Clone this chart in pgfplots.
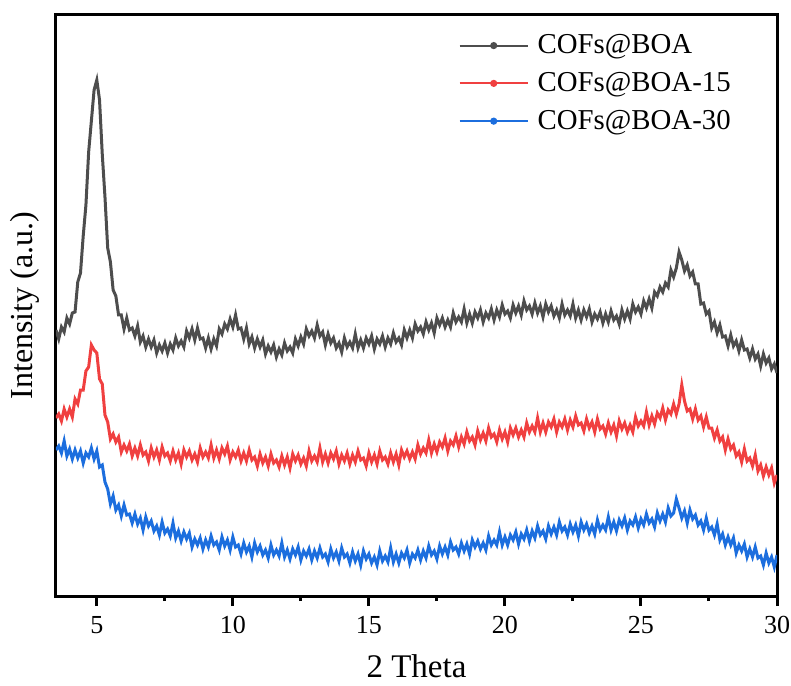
\documentclass[border=0pt]{standalone}
\usepackage{fontspec}
\setmainfont{Liberation Serif}
\usepackage{pgfplots}
\usepackage{pgfplotstable}
\pgfplotsset{compat=1.18}
\definecolor{cblack}{RGB}{77,77,77}
\definecolor{cred}{RGB}{240,64,64}
\definecolor{cblue}{RGB}{28,110,222}
\pgfplotstableread{
x b r u
3.5 270 182 150
3.6 261 186 154
3.7 273 179 147
3.8 268 191 159
3.9 282 183 144
4.0 276 191 151
4.1 287 183 141
4.2 288 201 150
4.3 318 196 142
4.4 327 210 149
4.5 364 210 137
4.6 395 229 147
4.7 448 233 143
4.8 479 255 152
4.9 510 250 141
5.0 520 247 149
5.1 500 221 133
5.2 446 216 135
5.3 403 185 118
5.4 352 178 111
5.5 338 161 96
5.6 310 166 104
5.7 304 158 90
5.8 285 163 95
5.9 285 148 84
6.0 271 155 95
6.1 282 149 85
6.2 270 156 86
6.3 272 144 77
6.4 264 152 86
6.5 274 144 76
6.6 258 155 82
6.7 264 145 70
6.8 253 148 83
6.9 261 139 74
7.0 253 152 79
7.1 260 143 69
7.2 247 150 74
7.3 255 140 65
7.4 249 153 78
7.5 257 144 67
7.6 247 147 71
7.7 256 139 64
7.8 250 149 77
7.9 262 140 62
8.0 254 147 69
8.1 259 136 59
8.2 253 150 68
8.3 269 143 61
8.4 262 149 67
8.5 271 140 53
8.6 260 146 61
8.7 272 138 55
8.8 261 152 62
8.9 262 143 51
9.0 252 148 60
9.1 262 142 53
9.2 251 155 64
9.3 261 142 55
9.4 254 150 58
9.5 271 141 50
9.6 266 152 63
9.7 276 146 54
9.8 271 154 60
9.9 281 140 50
10.0 273 148 63
10.1 285 143 53
10.2 271 150 55
10.3 272 139 46
10.4 261 147 57
10.5 272 139 48
10.6 256 150 54
10.7 263 140 43
10.8 252 143 57
10.9 261 134 48
11.0 253 146 54
11.1 260 137 45
11.2 246 143 50
11.3 254 134 42
11.4 248 146 55
11.5 255 137 45
11.6 243 140 50
11.7 251 133 44
11.8 245 144 57
11.9 257 135 43
12.0 249 143 50
12.1 253 132 41
12.2 247 146 51
12.3 261 139 45
12.4 254 145 53
12.5 263 136 40
12.6 256 142 49
12.7 271 134 44
12.8 264 149 51
12.9 269 139 40
13.0 262 144 49
13.1 275 138 42
13.2 264 152 52
13.3 268 138 43
13.4 255 146 46
13.5 266 137 38
13.6 257 147 51
13.7 262 141 42
13.8 252 149 48
13.9 257 136 39
14.0 248 145 52
14.1 262 139 43
14.2 253 147 46
14.3 258 136 37
14.4 252 145 48
14.5 266 138 39
14.6 252 149 46
14.7 260 140 35
14.8 252 142 49
14.9 262 134 41
15.0 256 147 46
15.1 264 138 37
15.2 251 145 43
15.3 261 136 35
15.4 256 149 49
15.5 264 140 39
15.6 253 143 44
15.7 262 136 38
15.8 256 147 52
15.9 267 138 38
16.0 258 146 46
16.1 262 135 37
16.2 255 150 47
16.3 270 143 42
16.4 262 149 50
16.5 270 141 37
16.6 262 148 46
16.7 276 141 42
16.8 269 155 50
16.9 273 146 40
17.0 266 152 49
17.1 278 147 42
17.2 270 160 54
17.3 277 147 45
17.4 267 156 49
17.5 282 148 41
17.6 275 158 54
17.7 282 153 46
17.8 273 162 53
17.9 280 149 45
18.0 273 159 58
18.1 287 155 50
18.2 278 164 53
18.3 283 153 46
18.4 278 163 57
18.5 291 156 49
18.6 277 168 56
18.7 286 159 46
18.8 277 163 60
18.9 288 155 53
19.0 282 169 59
19.1 290 160 51
19.2 278 167 57
19.3 287 159 50
19.4 282 172 64
19.5 291 163 55
19.6 280 166 60
19.7 290 158 55
19.8 283 170 68
19.9 295 161 55
20.0 286 168 63
20.1 289 158 55
20.2 282 172 65
20.3 295 165 60
20.4 287 172 68
20.5 294 163 56
20.6 285 170 66
20.7 299 163 61
20.8 290 177 70
20.9 294 168 59
21.0 286 174 69
21.1 297 168 62
21.2 287 182 74
21.3 294 168 65
21.4 283 177 69
21.5 296 168 61
21.6 288 178 74
21.7 294 173 66
21.8 284 181 73
21.9 290 168 65
22.0 282 178 78
22.1 296 173 69
22.2 285 181 73
22.3 290 170 65
22.4 284 180 76
22.5 296 173 68
22.6 282 184 75
22.7 290 175 64
22.8 280 177 78
22.9 290 169 70
23.0 283 181 76
23.1 291 172 67
23.2 278 178 74
23.3 286 168 66
23.4 281 181 80
23.5 288 171 70
23.6 277 174 75
23.7 286 166 70
23.8 278 177 83
23.9 289 168 70
24.0 280 175 78
24.1 284 164 69
24.2 276 179 80
24.3 290 171 74
24.4 281 177 82
24.5 289 168 70
24.6 281 175 79
24.7 296 168 75
24.8 288 183 83
24.9 293 174 72
25.0 286 179 81
25.1 299 174 75
25.2 292 188 86
25.3 301 175 77
25.4 292 184 81
25.5 308 176 73
25.6 304 187 87
25.7 313 182 79
25.8 308 192 86
25.9 317 180 78
26.0 313 190 92
26.1 330 186 84
26.2 323 196 87
26.3 332 186 101
26.4 348 196 92
26.5 340 215 82
26.6 329 199 89
26.7 335 189 77
26.8 324 191 90
26.9 328 181 81
27.0 316 191 85
27.1 316 180 75
27.2 296 184 79
27.3 297 173 70
27.4 286 183 82
27.5 289 172 70
27.6 272 172 73
27.7 278 162 65
27.8 267 170 76
27.9 275 159 60
28.0 263 163 66
28.1 264 150 55
28.2 254 161 63
28.3 265 151 55
28.4 254 155 62
28.5 259 144 47
28.6 249 148 55
28.7 260 138 49
28.8 250 151 56
28.9 251 139 43
29.0 242 142 51
29.1 251 134 43
29.2 241 145 53
29.3 246 129 42
29.4 234 135 44
29.5 246 124 35
29.6 237 133 47
29.7 242 125 37
29.8 231 132 43
29.9 236 117 33
30.0 227 125 45
}\datatable
\begin{document}
\begin{tikzpicture}
\begin{axis}[
  scale only axis,
  width=360.5pt, height=290.5pt,
  xmin=3.5, xmax=30, ymin=4, ymax=585,
  axis line style={line width=1.5pt},
  xtick={5,10,15,20,25,30},
  minor x tick num=1,
  xtick pos=bottom,
  ytick=\empty,
  tick align=outside,
  major tick length=5pt,
  minor tick length=2.5pt,
  every tick/.style={black, line width=1.5pt},
  /pgf/number format/assume math mode=true,
  xticklabel style={font=\fontsize{13}{15}\selectfont, yshift=-1.5pt},
  xlabel={2 Theta},
  ylabel={Intensity (a.u.)},
  xlabel style={at={(axis description cs:0.5,-0.141)}, anchor=base, font=\fontsize{16.5}{19}\selectfont},
  ylabel style={at={(axis description cs:-0.032,0.5)}, anchor=base, rotate=0, font=\fontsize{16}{19}\selectfont},
  legend cell align=left,
  legend style={draw=none, fill=none, at={(0.558,0.974)}, anchor=north west,
    font=\fontsize{14.4}{17}\selectfont, row sep=3.8pt, inner sep=0pt,
    nodes={inner xsep=4.5pt}},
  legend image code/.code={\draw[#1, line width=1pt] (0pt,0pt) -- (34pt,0pt); \fill[#1] (17pt,0pt) circle (1pt);},
]
\addplot[cblack, line width=1.5pt] table[x=x, y=b] {\datatable};
\addlegendentry{COFs@BOA}
\addplot[cred, line width=1.5pt] table[x=x, y=r] {\datatable};
\addlegendentry{COFs@BOA-15}
\addplot[cblue, line width=1.5pt] table[x=x, y=u] {\datatable};
\addlegendentry{COFs@BOA-30}
\end{axis}
\pgfresetboundingbox
\path[use as bounding box] ([shift={(-28pt,-44.5pt)}]current axis.south west) rectangle ([shift={(367.5pt,298pt)}]current axis.south west);
\end{tikzpicture}
\end{document}
